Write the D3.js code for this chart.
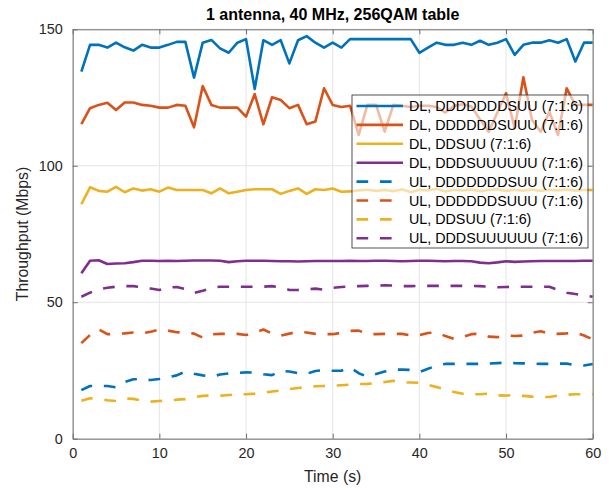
<!DOCTYPE html>
<html><head><meta charset="utf-8">
<script src="https://cdn.jsdelivr.net/npm/d3@7"></script>
<style>body{margin:0;background:#fff;}svg{display:block;font-family:"Liberation Sans",Arial,Helvetica,sans-serif;}</style>
</head><body>
<svg id="chart" width="613" height="491"></svg>
<script>
const title = "1 antenna, 40 MHz, 256QAM table";
const xLabel = "Time (s)";
const yLabel = "Throughput (Mbps)";
const xTicks = [0,10,20,30,40,50,60];
const yTicks = [0,50,100,150];
const time = d3.range(1,61);

const dlA = [134.5,144.3,144.3,143.3,145.1,143.4,142.2,144.3,143.3,143.3,144.3,145.4,145.4,132.3,145.1,146.1,143,141.4,145.1,146.4,128.1,146,144.3,146,137.5,146,147.5,145.1,143.3,145.1,143.3,146.4,146.4,146.4,146.4,146.4,146.4,146.4,146.4,141.4,143.3,145.1,144.3,144.3,145.1,144.3,145.8,144.3,145.1,146.4,140.6,144.3,145.1,145.1,146,145.1,146.4,138.2,145.1,145.1];
const dlB = [115.3,121.1,122.3,123.1,120.4,123.2,123.2,122.3,122,121.3,121.3,122.3,122,114.1,129.2,122.3,121.3,121.3,121.3,118,126.3,115.2,125.1,124.1,121.1,122.3,115.2,116.2,128.4,122.3,121.5,122,111.3,122.3,122.3,112.5,122.3,122,121.5,122,122,121.5,119.5,122,122.5,121.7,117,112.5,119.5,126.6,113.7,132.4,116.8,112.5,119.8,111.3,128.4,122.3,122.3,122.3];
const dlC = [85.9,92.1,90.8,90.5,92.3,90.3,91.7,90.9,91.4,90.5,92,91.1,91.1,91.1,91.1,89.9,91.7,89.9,90.5,91.1,91.4,91.4,91.4,89.7,90.8,91.7,89.7,91.4,91.1,91.7,90.5,90.6,91,91.2,90.8,91.1,90.7,91.4,90.3,91.2,91,91.6,90.6,91.2,91,91.3,90.7,91.1,91.4,90.8,91.2,90.9,91.3,90.8,91.2,91,91.3,90.9,91.1,91.1];
const dlD = [60.6,65.2,65.4,64,64.2,64.3,64.7,65.2,65.2,65.1,65.2,65.1,65.2,65.3,65.3,65.3,65.2,64.7,65,65.2,65.2,65.2,65.1,65,65,64.9,65,65.1,65.1,65.1,65.1,65.2,65.1,65.1,65.2,65.2,65.1,65,65.1,65.2,65.2,65.1,65,65.1,65.1,65,64.5,64.3,64.6,65,64.8,64.9,65,65.1,65.1,65.1,65.1,65.1,65.2,65.2];
const ulA = [17.8,19.3,19.3,19.3,18.8,20.8,21.8,21.7,21.5,21.9,22.5,23.2,24.6,23.8,23.2,22.7,23.5,23.9,24.1,24.3,24.2,23.6,23.3,24.9,24.6,24,23.8,24.8,25.1,24.9,24.9,26.1,24,22.7,23.7,24.6,25.3,25.3,25.2,24.4,25.6,26.8,27.4,27.4,27.4,27.4,27.4,27.5,27.7,27.9,27.7,27.6,27.5,27.4,27.4,27.5,27.5,26.9,26.8,27.4];
const ulB = [35,38,40.1,38.3,38.4,38.6,38.9,38.6,39.2,40,39.6,39,38.9,38.5,37,38.2,38.4,38.4,38.4,38,38.9,40,38.5,37.8,38.5,39.2,38.9,38.4,38.3,38.3,38.8,39.5,39.6,38.4,38.3,38.4,38.4,38.4,37.8,37.9,38.7,39,37.6,36.6,37.3,38.3,38.5,37.4,37.2,37.9,37.6,37.8,38.8,39.4,38.5,38.4,38.6,38.9,37.8,36.4];
const ulC = [13.9,14.8,14.5,14.1,13.8,14.7,14.6,14,13.6,13.8,14,14.3,14.5,15.2,15.7,15.9,15.7,16,16.2,16.3,16.5,16.8,17.3,17.7,18.2,18.6,18.9,19.2,19.3,19.4,19.6,19.8,20,20.1,20.4,20.8,21.2,20.6,20.6,20.5,19.7,18.9,18,17.1,16.5,16.3,16.3,16.5,15.9,15.8,16,15.7,15.4,15.3,15.3,15.8,16.1,16.3,16.3,16.3];
const ulD = [52,53.5,54.8,55.3,55.7,55.9,55.9,55.5,55,54.5,55.4,55.6,54.8,53.4,54.2,55.2,55.7,55.7,55.7,55.7,55.7,55.7,55.9,55.4,54.5,54.5,54.7,55,54.6,55.3,55.6,55.8,55.9,56,56.1,56.2,56.1,55.9,55.9,56,56,56,56,56,56,56,55.9,55.7,55.5,55.6,55.7,55.7,55.7,55.7,55.7,54.5,53.5,53,52.6,52];

const seriesNames = ["DL, DDDDDDDSUU (7:1:6)","DL, DDDDDDSUUU (7:1:6)","DL, DDSUU (7:1:6)","DL, DDDSUUUUUU (7:1:6)","UL, DDDDDDDSUU (7:1:6)","UL, DDDDDDSUUU (7:1:6)","UL, DDSUU (7:1:6)","UL, DDDSUUUUUU (7:1:6)"];
const seriesValues = [dlA,dlB,dlC,dlD,ulA,ulB,ulC,ulD];
const seriesColors = ["#0072BD","#D95319","#EDB120","#7E2F8E","#0072BD","#D95319","#EDB120","#7E2F8E"];
const seriesDashed = [false,false,false,false,true,true,true,true];

const svg = d3.select("#chart");
const L = 72.7, R = 592.7, T = 29.3, B = 438.7;
const x = d3.scaleLinear().domain([0,60]).range([L,R]);
const y = d3.scaleLinear().domain([0,150]).range([B,T]);

// grid
const g = svg.append("g");
g.selectAll(".gx").data(xTicks).join("line")
  .attr("x1",d=>x(d)).attr("x2",d=>x(d)).attr("y1",T).attr("y2",B)
  .attr("stroke","#e5e5e5").attr("stroke-width",1);
g.selectAll(".gy").data(yTicks).join("line")
  .attr("x1",L).attr("x2",R).attr("y1",d=>y(d)).attr("y2",d=>y(d))
  .attr("stroke","#e5e5e5").attr("stroke-width",1);

// lines
const line = d3.line().x((d,i)=>x(time[i])).y(d=>y(d));
seriesValues.forEach((vals,k)=>{
  svg.append("path").datum(vals).attr("d",line)
    .attr("fill","none").attr("stroke",seriesColors[k]).attr("stroke-width",2.6)
    .attr("stroke-linejoin","round")
    .attr("stroke-dasharray",seriesDashed[k]?"11.7,11.7":null);
});

// axes
const axisColor = "#6e6e6e";
const xAxisB = d3.axisBottom(x).tickValues(xTicks).tickSizeInner(-5).tickSizeOuter(0).tickPadding(9);
const xAxisT = d3.axisTop(x).tickValues(xTicks).tickSizeInner(-5).tickSizeOuter(0).tickFormat("");
const yAxisL = d3.axisLeft(y).tickValues(yTicks).tickSizeInner(-5).tickSizeOuter(0).tickPadding(10);
const yAxisR = d3.axisRight(y).tickValues(yTicks).tickSizeInner(-5).tickSizeOuter(0).tickFormat("");
function style(sel){
  sel.select(".domain").attr("stroke",axisColor).attr("stroke-width",1);
  sel.selectAll(".tick line").attr("stroke",axisColor);
  sel.selectAll(".tick text").attr("fill","#262626").style("font-size","14.4px").style("font-family",'"Liberation Sans",Arial,sans-serif');
}
svg.append("g").attr("transform",`translate(0,${B})`).call(xAxisB).call(style);
svg.append("g").attr("transform",`translate(0,${T})`).call(xAxisT).call(style);
svg.append("g").attr("transform",`translate(${L},0)`).call(yAxisL).call(style);
svg.append("g").attr("transform",`translate(${R},0)`).call(yAxisR).call(style);

// labels
svg.append("text").attr("x",(L+R)/2).attr("y",19.5).attr("text-anchor","middle")
  .style("font-size","16px").style("font-weight","bold").attr("fill","#000").text(title);
svg.append("text").attr("x",(L+R)/2).attr("y",482).attr("text-anchor","middle")
  .style("font-size","15.8px").attr("fill","#262626").text(xLabel);
svg.append("text").attr("transform",`translate(28,${(T+B)/2}) rotate(-90)`).attr("text-anchor","middle")
  .style("font-size","15.8px").attr("fill","#262626").text(yLabel);

// legend
const lx = 352, ly = 95, lw = 236, lh = 153, rowH = 18.9, row0 = 106;
const leg = svg.append("g");
leg.append("rect").attr("x",lx).attr("y",ly).attr("width",lw).attr("height",lh)
  .attr("fill","#fff").attr("fill-opacity",0.6).attr("stroke","#262626").attr("stroke-width",0.8);
seriesNames.forEach((name,k)=>{
  const yy = row0 + k*rowH;
  leg.append("line").attr("x1",356.5).attr("x2",403).attr("y1",yy).attr("y2",yy)
    .attr("stroke",seriesColors[k]).attr("stroke-width",2.6)
    .attr("stroke-dasharray",seriesDashed[k]?"11.7,11.7":null);
  leg.append("text").attr("x",409).attr("y",yy).attr("dy","0.35em")
    .style("font-size","14.3px").attr("fill","#000").text(name);
});
</script>
</body></html>
